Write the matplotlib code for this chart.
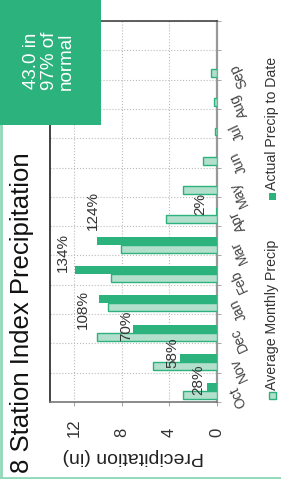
import numpy as np
import matplotlib
matplotlib.use("Agg")
import matplotlib.pyplot as plt
from matplotlib.patches import Rectangle
from matplotlib.lines import Line2D

plt.rcParams["font.family"] = ["Liberation Sans", "DejaVu Sans"]

# water year, Oct -> Sep
months = ["Oct", "Nov", "Dec", "Jan", "Feb", "Mar", "Apr", "May", "Jun", "Jul", "Aug", "Sep"]
avg_precip = [2.88, 5.38, 10.08, 9.16, 8.90, 8.07, 4.31, 2.83, 1.15, 0.14, 0.25, 0.53]
actual_precip = [0.81, 3.12, 7.06, 9.92, 11.93, 10.08, 0.09, 0, 0, 0, 0, 0]
pct_labels = ["28%", "58%", "70%", "108%", "134%", "124%", "2%"]
pct_of_normal = 97

dark = "#2cb27d"
light = "#b2e0cc"
frame = "#8fd8b8"

W, H = 281, 479
fig = plt.figure(figsize=(W / 100, H / 100), dpi=100)
ax = fig.add_axes([50 / W, 1 - 402 / H, (217 - 50) / W, (402 - 21) / H])

y = np.arange(len(months))
h = 0.27
ax.barh(y, actual_precip, height=h, color=dark, zorder=3)
ax.barh(y - h, avg_precip, height=h, color=light, edgecolor=dark, linewidth=1, zorder=3)

# percent of normal labels (pixel nudges)
label_offset = [(-2, 8), (0, 5), (0, 3), (-9, -10), (-5, 18), (3, 30), (-9, 7)]
for i, txt in enumerate(pct_labels):
    dx, dy = label_offset[i]
    ax.annotate(txt, xy=(actual_precip[i], i), xytext=(dx, dy), textcoords="offset pixels",
                rotation=90, ha="right", va="center", fontsize=11, color="#333333", zorder=4)

ax.set_xlim(14, 0)
ax.set_ylim(-0.5, 12.5)
ax.set_xticks([0, 4, 8, 12])
ax.set_xticklabels(["0", "4", "8", "12"], rotation=90, va="bottom", fontsize=12, color="#333333")
ax.tick_params(axis="x", length=3, pad=22, color="#aaaaaa")
ax.set_xlabel("Precipitation (in)", rotation=180, fontsize=14, color="#222222", labelpad=8)

ax.yaxis.tick_right()
ax.set_yticks(y)
ax.set_yticklabels(months, rotation=115, rotation_mode="anchor", ha="right", va="center",
                   fontsize=10, color="#444444")
ax.set_yticks(np.arange(-0.5, 12.6, 1), minor=True)
ax.tick_params(axis="y", which="major", length=0, pad=12)
ax.tick_params(axis="y", which="minor", length=3, color="#999999")
ax.grid(axis="y", which="minor", linestyle=":", color="#bbbbbb", linewidth=0.8)
ax.grid(axis="x", which="major", linestyle=":", color="#bbbbbb", linewidth=0.8)
ax.set_axisbelow(True)

ax.spines["left"].set_color("#222222")
ax.spines["left"].set_linewidth(1.2)
ax.spines["top"].set_color("#444444")
ax.spines["top"].set_linewidth(1.2)
ax.spines["right"].set_color("#999999")
ax.spines["right"].set_linewidth(1.6)
ax.spines["bottom"].set_color("#777777")
ax.spines["bottom"].set_linewidth(1.2)

# title
fig.text(22 / W, 1 - 473 / H, "8 Station Index Precipitation", rotation=90,
         ha="center", va="bottom", fontsize=18.5, color="#111111")

# summary box
fig.add_artist(Rectangle((0, 1 - 125 / H), 101 / W, 125 / H, transform=fig.transFigure,
                         facecolor=dark, edgecolor="none", zorder=5))
total = sum(actual_precip)
fig.text(49 / W, 1 - 61 / H, f"{total:.1f} in\n{pct_of_normal}% of\nnormal", rotation=90,
         ha="center", va="center", fontsize=13.5, color="white", linespacing=1.05, zorder=6)

# legend
fig.add_artist(Rectangle((269 / W, 1 - 399 / H), 7 / W, 7 / H, transform=fig.transFigure,
                         facecolor=light, edgecolor=dark, linewidth=1))
fig.text(272 / W, 1 - 390 / H, "Average Monthly Precip", rotation=90, ha="center", va="bottom",
         fontsize=10.2, color="#333333")
fig.add_artist(Rectangle((269 / W, 1 - 200 / H), 7 / W, 7 / H, transform=fig.transFigure,
                         facecolor=dark, edgecolor="none"))
fig.text(272 / W, 1 - 190 / H, "Actual Precip to Date", rotation=90, ha="center", va="bottom",
         fontsize=10.2, color="#333333")

# outer frame (left and bottom edges)
fig.add_artist(Line2D([1 / W, 1 / W], [0, 1], transform=fig.transFigure, color=frame, linewidth=2))
fig.add_artist(Line2D([0, 1], [1.5 / H, 1.5 / H], transform=fig.transFigure, color=frame, linewidth=2))

fig.savefig("out.png", dpi=100)
